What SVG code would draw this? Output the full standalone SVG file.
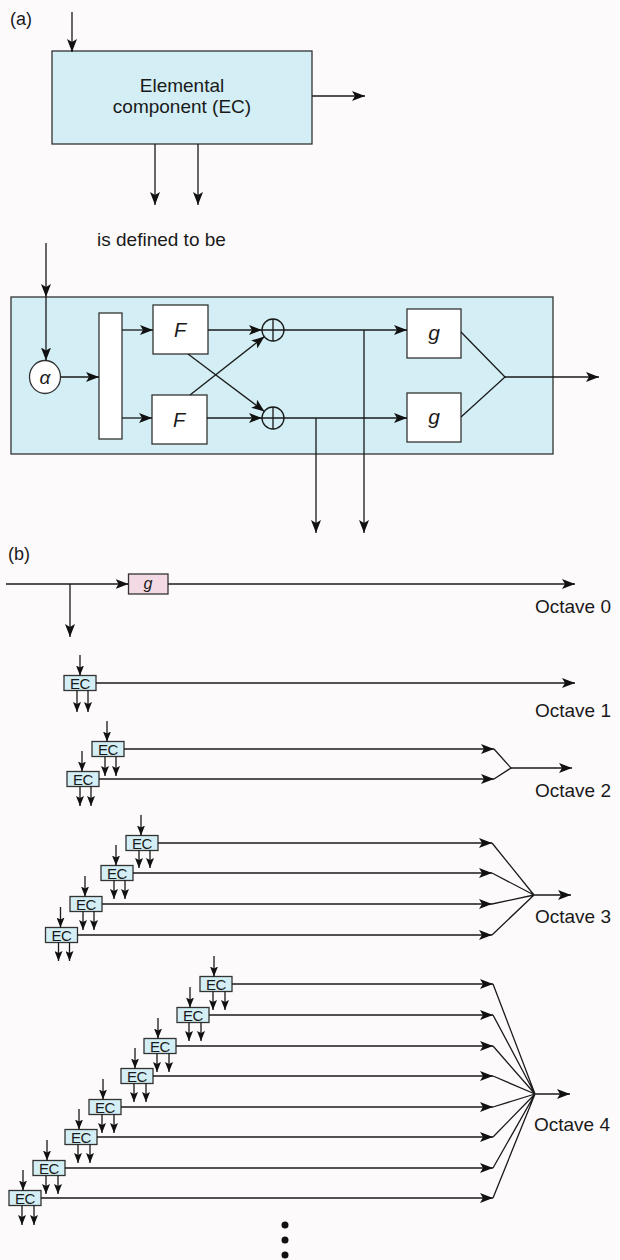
<svg xmlns="http://www.w3.org/2000/svg" width="620" height="1260" viewBox="0 0 620 1260">
<style>
.ln{stroke:#1a1a1a;stroke-width:1.3;fill:none}
.a{marker-end:url(#ah)}
.s{marker-end:url(#as)}
.box{stroke:#333;stroke-width:1.3;fill:#fff}
.cyan{fill:#d3eef4;stroke:#333;stroke-width:1.3}
.t{font-family:"Liberation Sans",Arial,sans-serif;fill:#1a1a1a}
.ec{font-family:"Liberation Sans",Arial,sans-serif;font-size:15px;text-anchor:middle;fill:#1a1a1a;letter-spacing:-0.5px}
.it{font-style:italic}
.mid{text-anchor:middle}
</style>
<defs>
<marker id="ah" markerWidth="13" markerHeight="10" refX="13" refY="5" orient="auto" markerUnits="userSpaceOnUse"><path d="M0,0 L13,5 L0,10 L3,5 z" fill="#111"/></marker>
<marker id="as" markerWidth="10" markerHeight="8" refX="10" refY="4" orient="auto" markerUnits="userSpaceOnUse"><path d="M0,0 L10,4 L0,8 L2,4 z" fill="#111"/></marker>
</defs>
<rect width="620" height="1260" fill="#fdfafc"/>

<!-- (a) -->
<text class="t" x="10" y="25" font-size="18">(a)</text>
<g id="ec-top">
<rect class="cyan" x="52" y="51" width="260" height="93"/>
<text class="t mid" x="182" y="92" font-size="19">Elemental</text>
<text class="t mid" x="182" y="113" font-size="19">component (EC)</text>
</g>
<text class="t" x="97" y="246" font-size="19">is defined to be</text>

<g id="ec-detail">
<rect class="cyan" x="11" y="297" width="542" height="157"/>
</g>
<g id="alpha"><ellipse cx="45" cy="377" rx="15.5" ry="16.5" fill="#fff" stroke="#333" stroke-width="1.3"/><text class="t it mid" x="45" y="384" font-size="19">α</text></g>
<g id="split"><rect class="box" x="99" y="313" width="23" height="126"/></g>
<g id="F1"><rect class="box" x="153" y="305" width="55" height="49"/><text class="t it mid" x="180" y="337" font-size="20">F</text></g>
<g id="F2"><rect class="box" x="152" y="395" width="55" height="49"/><text class="t it mid" x="179" y="427" font-size="20">F</text></g>
<g id="sum1"><circle cx="273" cy="330" r="11" fill="none" stroke="#1a1a1a" stroke-width="1.3"/><path class="ln" d="M273,319 V341 M262,330 H284"/></g>
<g id="sum2"><circle cx="273" cy="418" r="11" fill="none" stroke="#1a1a1a" stroke-width="1.3"/><path class="ln" d="M273,407 V429 M262,418 H284"/></g>
<g id="g1"><rect class="box" x="407" y="309" width="54" height="49"/><text class="t it mid" x="434" y="340" font-size="21">g</text></g>
<g id="g2"><rect class="box" x="407" y="393" width="54" height="49"/><text class="t it mid" x="434" y="424" font-size="21">g</text></g>

<g id="connectors-a">
<path class="ln a" d="M72,12 V52"/>
<path class="ln a" d="M312,96 H365"/>
<path class="ln a" d="M155,144 V205"/>
<path class="ln a" d="M198,144 V205"/>
<path class="ln a" d="M46,243 V297"/>
<path class="ln a" d="M46,297 V360.5"/>
<path class="ln a" d="M60.5,377 H99"/>
<path class="ln a" d="M122,330 H153"/>
<path class="ln a" d="M122,418 H152"/>
<path class="ln a" d="M208,330 H262"/>
<path class="ln a" d="M207,418 H262"/>
<path class="ln a" d="M188,354 L264.5,411.5"/>
<path class="ln a" d="M190,395 L264.5,336.5"/>
<path class="ln a" d="M284,330 H407"/>
<path class="ln a" d="M284,418 H407"/>
<path class="ln a" d="M364,330 V533"/>
<path class="ln a" d="M316,418 V533"/>
<path class="ln" d="M461,332 L505,377 L461,417"/>
<path class="ln a" d="M505,377 H599"/>
</g>

<!-- (b) -->
<text class="t" x="8" y="560" font-size="18">(b)</text>
<g id="g0"><rect x="128.5" y="574" width="39.5" height="20" fill="#f3d9e4" stroke="#333" stroke-width="1.3"/><text class="t it mid" x="148" y="589" font-size="16">g</text></g>

<g id="ec-o1"><rect class="cyan" x="64" y="675.5" width="32" height="15"/><text class="ec" x="80" y="688.5">EC</text></g>

<g id="ec-o2a"><rect class="cyan" x="92" y="741.5" width="32" height="15"/><text class="ec" x="108" y="754.5">EC</text></g>
<g id="ec-o2b"><rect class="cyan" x="67" y="771.5" width="32" height="15"/><text class="ec" x="83" y="784.5">EC</text></g>

<g id="ec-o3a"><rect class="cyan" x="126" y="835.5" width="32" height="15"/><text class="ec" x="142" y="848.5">EC</text></g>
<g id="ec-o3b"><rect class="cyan" x="101" y="865.5" width="32" height="15"/><text class="ec" x="117" y="878.5">EC</text></g>
<g id="ec-o3c"><rect class="cyan" x="70" y="896.5" width="32" height="15"/><text class="ec" x="86" y="909.5">EC</text></g>
<g id="ec-o3d"><rect class="cyan" x="45.5" y="927.5" width="32" height="15"/><text class="ec" x="61.5" y="940.5">EC</text></g>

<g id="ec-o4a"><rect class="cyan" x="200" y="976.5" width="32" height="15"/><text class="ec" x="216" y="989.5">EC</text></g>
<g id="ec-o4b"><rect class="cyan" x="177" y="1007.5" width="32" height="15"/><text class="ec" x="193" y="1020.5">EC</text></g>
<g id="ec-o4c"><rect class="cyan" x="144" y="1038.5" width="32" height="15"/><text class="ec" x="160" y="1051.5">EC</text></g>
<g id="ec-o4d"><rect class="cyan" x="121" y="1068.5" width="32" height="15"/><text class="ec" x="137" y="1081.5">EC</text></g>
<g id="ec-o4e"><rect class="cyan" x="89" y="1099.5" width="32" height="15"/><text class="ec" x="105" y="1112.5">EC</text></g>
<g id="ec-o4f"><rect class="cyan" x="65" y="1129.5" width="32" height="15"/><text class="ec" x="81" y="1142.5">EC</text></g>
<g id="ec-o4g"><rect class="cyan" x="33" y="1160.5" width="32" height="15"/><text class="ec" x="49" y="1173.5">EC</text></g>
<g id="ec-o4h"><rect class="cyan" x="9" y="1190.5" width="32" height="15"/><text class="ec" x="25" y="1203.5">EC</text></g>

<g id="labels">
<text class="t" x="535" y="613" font-size="19">Octave 0</text>
<text class="t" x="535" y="717" font-size="19">Octave 1</text>
<text class="t" x="535" y="797" font-size="19">Octave 2</text>
<text class="t" x="535" y="923" font-size="19">Octave 3</text>
<text class="t" x="534" y="1131" font-size="19">Octave 4</text>
</g>

<g id="connectors-b">
<path class="ln a" d="M6,584 H128.5"/>
<path class="ln a" d="M168,584 H575"/>
<path class="ln a" d="M70,584 V637"/>
<!-- octave 1 -->
<path class="ln a" d="M96,683 H575"/>
<path class="ln s" d="M80,655 V675.5"/>
<path class="ln s" d="M77,690.5 V712"/>
<path class="ln s" d="M88,690.5 V712"/>
<!-- octave 2 -->
<path class="ln a" d="M124,749 H494"/>
<path class="ln a" d="M99,779 H494"/>
<path class="ln" d="M494,749 L511,768 L494,779"/>
<path class="ln a" d="M511,768 H572"/>
<path class="ln s" d="M107,721 V741.5"/>
<path class="ln s" d="M105,756.5 V776"/>
<path class="ln s" d="M116,756.5 V776"/>
<path class="ln s" d="M82,751 V771.5"/>
<path class="ln s" d="M80,786.5 V806"/>
<path class="ln s" d="M91,786.5 V806"/>
<!-- octave 3 -->
<path class="ln a" d="M158,843 H492"/>
<path class="ln a" d="M133,873 H492"/>
<path class="ln a" d="M102,904 H492"/>
<path class="ln a" d="M77.5,935 H492"/>
<path class="ln" d="M492,843 L534,895 M492,873 L534,895 M492,904 L534,895 M492,935 L534,895"/>
<path class="ln a" d="M534,895 H571"/>
<path class="ln s" d="M141,815 V835.5"/>
<path class="ln s" d="M139,850.5 V868"/>
<path class="ln s" d="M150,850.5 V868"/>
<path class="ln s" d="M116,845 V865.5"/>
<path class="ln s" d="M114,880.5 V899"/>
<path class="ln s" d="M125,880.5 V899"/>
<path class="ln s" d="M85,876 V896.5"/>
<path class="ln s" d="M83,911.5 V930"/>
<path class="ln s" d="M94,911.5 V930"/>
<path class="ln s" d="M60.5,907 V927.5"/>
<path class="ln s" d="M58.5,942.5 V961"/>
<path class="ln s" d="M69.5,942.5 V961"/>
<!-- octave 4 -->
<path class="ln a" d="M232,984 H493"/>
<path class="ln a" d="M209,1015 H493"/>
<path class="ln a" d="M176,1046 H493"/>
<path class="ln a" d="M153,1076 H493"/>
<path class="ln a" d="M121,1107 H493"/>
<path class="ln a" d="M97,1137 H493"/>
<path class="ln a" d="M65,1168 H493"/>
<path class="ln a" d="M41,1198 H493"/>
<path class="ln" d="M493,984 L535,1094 M493,1015 L535,1094 M493,1046 L535,1094 M493,1076 L535,1094 M493,1107 L535,1094 M493,1137 L535,1094 M493,1168 L535,1094 M493,1198 L535,1094"/>
<path class="ln a" d="M535,1094 H570"/>
<path class="ln s" d="M214,956 V976.5"/>
<path class="ln s" d="M213,991.5 V1010"/>
<path class="ln s" d="M225,991.5 V1010"/>
<path class="ln s" d="M190,987 V1007.5"/>
<path class="ln s" d="M189,1022.5 V1041"/>
<path class="ln s" d="M201,1022.5 V1041"/>
<path class="ln s" d="M158,1018 V1038.5"/>
<path class="ln s" d="M157,1053.5 V1072"/>
<path class="ln s" d="M169,1053.5 V1072"/>
<path class="ln s" d="M135,1048 V1068.5"/>
<path class="ln s" d="M134,1083.5 V1102"/>
<path class="ln s" d="M146,1083.5 V1102"/>
<path class="ln s" d="M103,1079 V1099.5"/>
<path class="ln s" d="M102,1114.5 V1133"/>
<path class="ln s" d="M114,1114.5 V1133"/>
<path class="ln s" d="M79,1109 V1129.5"/>
<path class="ln s" d="M78,1144.5 V1163"/>
<path class="ln s" d="M90,1144.5 V1163"/>
<path class="ln s" d="M47,1140 V1160.5"/>
<path class="ln s" d="M46,1175.5 V1194"/>
<path class="ln s" d="M58,1175.5 V1194"/>
<path class="ln s" d="M23,1170 V1190.5"/>
<path class="ln s" d="M22,1205.5 V1225"/>
<path class="ln s" d="M34,1205.5 V1225"/>
</g>

<g id="dots" fill="#111">
<circle cx="285" cy="1225" r="3.5"/>
<circle cx="285" cy="1240" r="3.5"/>
<circle cx="285" cy="1255" r="3.5"/>
</g>
</svg>
